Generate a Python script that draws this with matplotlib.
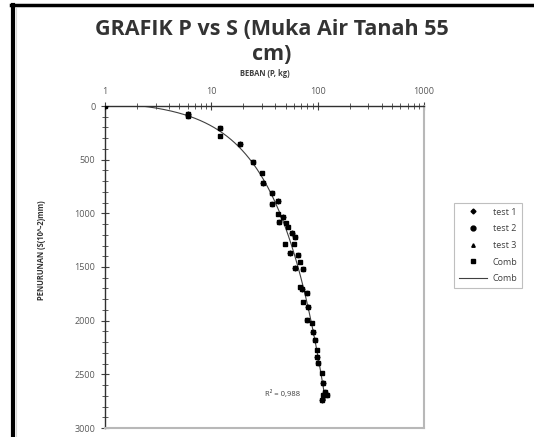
import numpy as np
import matplotlib.pyplot as plt
from matplotlib.lines import Line2D
from matplotlib.ticker import MultipleLocator, LogLocator, NullFormatter, FixedLocator

plt.rcParams['font.family'] = ['Open Sans', 'DejaVu Sans']

# beban P (kg) vs penurunan S (10^-2 mm)
p_test1 = [1, 6.0, 18.8, 30.8, 42.7, 47.6, 57.0, 55.0, 61.3, 71.0, 81.8, 91.2, 99.4, 113, 109]
s_test1 = [0, 70, 357, 721, 882, 1031, 1187, 1373, 1513, 1703, 1871, 2103, 2337, 2585, 2741]

p_test2 = [6.0, 12.1, 24.5, 37.0, 37.0, 43.5, 61.3, 65.8, 73.3, 78.9, 78.9, 94.6, 101.6, 117, 122]
s_test2 = [95, 208, 520, 813, 913, 1078, 1218, 1389, 1522, 1746, 1994, 2181, 2399, 2663, 2694]

p_test3 = [12.1, 30.2, 42.7, 50.5, 53.0, 49.3, 59.5, 67.5, 68.3, 73.3, 88.0, 98.1, 109, 113]
s_test3 = [280, 628, 1007, 1088, 1131, 1286, 1286, 1451, 1684, 1824, 2025, 2275, 2492, 2694]

p_comb = np.concatenate([p_test1, p_test2, p_test3])
s_comb = np.concatenate([s_test1, s_test2, s_test3])

r2_text = 'R² = 0,988'

fig = plt.figure(figsize=(5.34, 4.37), dpi=100)
ax = fig.add_axes([105 / 534, 1 - 428 / 437, (424 - 105) / 534, (428 - 106) / 437])

# trendline (poly 2 on P)
coef = np.polyfit(p_comb, s_comb, 2)
pp = np.logspace(0, np.log10(118), 300)
ax.plot(pp, np.polyval(coef, pp), color='#404040', lw=0.8, zorder=2)

ax.plot(p_test1, s_test1, 'D', color='black', ms=2.5, ls='none', zorder=3)
ax.plot(p_test2, s_test2, 'o', color='black', ms=3, ls='none', zorder=3)
ax.plot(p_test3, s_test3, '^', color='black', ms=2.5, ls='none', zorder=3)
ax.plot(p_comb, s_comb, 's', color='black', ms=3.2, ls='none', zorder=4)

ax.set_xscale('log')
ax.set_xlim(1, 1000)
ax.set_ylim(3000, 0)
ax.xaxis.tick_top()
ax.xaxis.set_label_position('top')
ax.xaxis.set_major_locator(FixedLocator([1, 10, 100, 1000]))
ax.xaxis.set_major_formatter(plt.FuncFormatter(lambda v, _: f'{v:g}'))
ax.xaxis.set_minor_locator(LogLocator(base=10, subs=np.arange(2, 10)))
ax.xaxis.set_minor_formatter(NullFormatter())
ax.yaxis.set_major_locator(MultipleLocator(500))
ax.yaxis.set_minor_locator(MultipleLocator(100))

ax.tick_params(which='major', direction='inout', length=6, width=0.8, color='#404040',
               labelsize=6.5, labelcolor='#595959', pad=4)
ax.tick_params(which='minor', direction='inout', length=4, width=0.6, color='#404040')

for side in ['left', 'top']:
    ax.spines[side].set_color('#303030')
    ax.spines[side].set_linewidth(1.0)
for side in ['right', 'bottom']:
    ax.spines[side].set_color('#b8b8b8')
    ax.spines[side].set_linewidth(1.5)

ax.set_xlabel('BEBAN (P, kg)', fontsize=5.5, fontweight='bold', color='#404040', labelpad=8)
fig.text(42 / 534, 1 - 250 / 437, 'PENURUNAN (S(10^-2)mm)', rotation=90, fontsize=5.5,
         fontweight='bold', color='#333333', ha='center', va='center')

ax.text(47, 2680, r2_text, fontsize=5.5, color='#404040', ha='center', va='center')

fig.text(272 / 534, 1 - 42 / 437, 'GRAFIK P vs S (Muka Air Tanah 55\ncm)', fontsize=15.5,
         fontweight='bold', color='#333333', ha='center', va='center', linespacing=1.2)

handles = [
    Line2D([], [], marker='D', color='black', ms=2.5, ls='none'),
    Line2D([], [], marker='o', color='black', ms=3.5, ls='none'),
    Line2D([], [], marker='^', color='black', ms=2.5, ls='none'),
    Line2D([], [], marker='s', color='black', ms=3.2, ls='none'),
    Line2D([], [], color='#404040', lw=0.8),
]
leg = fig.legend(handles, ['test 1', 'test 2', 'test 3', 'Comb', 'Comb'],
                 loc='upper left', bbox_to_anchor=(454 / 534, 1 - 203 / 437),
                 fontsize=6.5, frameon=True, fancybox=False, handlelength=3.2,
                 labelspacing=0.85, borderpad=0.5, handletextpad=0.6, borderaxespad=0)
leg.get_frame().set_edgecolor('#b0b0b0')
leg.get_frame().set_linewidth(0.8)
for t in leg.get_texts():
    t.set_color('#404040')

# frame of the pasted chart
fig.add_artist(Line2D([11 / 534, 1], [1 - 5 / 437, 1 - 5 / 437], color='black', lw=2.5))
fig.add_artist(Line2D([12.5 / 534, 12.5 / 534], [0, 1 - 5 / 437], color='black', lw=3))
fig.add_artist(Line2D([16 / 534, 16 / 534], [0, 1 - 8 / 437], color='#d8d8d8', lw=0.8))

fig.savefig('out.png', dpi=100)
